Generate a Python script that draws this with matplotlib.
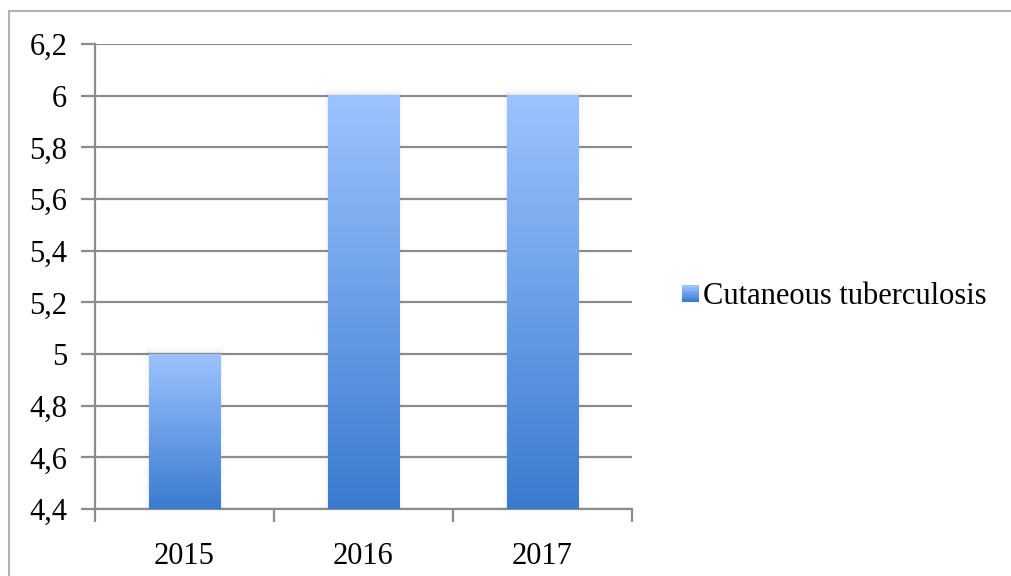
import numpy as np
import matplotlib
matplotlib.use("Agg")
import matplotlib.pyplot as plt
from matplotlib.patches import Rectangle
from matplotlib.colors import LinearSegmentedColormap
from matplotlib.legend_handler import HandlerBase

categories = ["2015", "2016", "2017"]
values = [5, 6, 6]
series_name = "Cutaneous tuberculosis"
yticks = [4.4, 4.6, 4.8, 5.0, 5.2, 5.4, 5.6, 5.8, 6.0, 6.2]
ytick_labels = ["4,4", "4,6", "4,8", "5", "5,2", "5,4", "5,6", "5,8", "6", "6,2"]

top_col = "#9cc3ff"
bot_col = "#3a7bd0"
cmap = LinearSegmentedColormap.from_list("g", [bot_col, top_col])

plt.rcParams['font.family'] = ['Liberation Serif', 'DejaVu Serif']
FS = 22

fig = plt.figure(figsize=(10.11, 5.76), dpi=100)
ax = fig.add_axes([95/1011, 1-509/576, (632-95)/1011, (509-44)/576])

x = np.arange(len(categories))
bars = ax.bar(x, values, width=0.4, bottom=0, color="none", zorder=3)

grad = np.linspace(0, 1, 256).reshape(-1, 1)
for b in bars:
    x0, w, h = b.get_x(), b.get_width(), b.get_height()
    for i, a in enumerate([0.05, 0.04, 0.03]):
        d = 0.006 * (i + 1)
        ax.add_patch(Rectangle((x0 - d, 4.4), w + 2*d, h - 4.4 + d*1.5, facecolor="gray",
                               alpha=a, edgecolor="none", zorder=2.5))
    ax.imshow(grad, cmap=cmap, origin="lower", aspect="auto",
              extent=(x0, x0 + w, 4.4, h), zorder=3, interpolation="bilinear")
ax.set_xlim(-0.5, len(categories)-0.5)
ax.set_ylim(4.4, 6.2)

ax.set_yticks(yticks)
ax.set_yticklabels(ytick_labels)
ax.yaxis.grid(True, color="#8c8c8c", linewidth=1.6, zorder=1)
ax.set_axisbelow(True)
ax.set_xticks(x)
ax.set_xticklabels(categories)
ax.set_xticks(np.arange(-0.5, len(categories)), minor=True)
ax.tick_params(axis="x", which="major", length=0, pad=24, labelsize=FS)
ax.tick_params(axis="x", which="minor", length=9, width=1.6, color="#8c8c8c", direction="out")
ax.tick_params(axis="y", length=10, width=1.6, color="#8c8c8c", pad=10, labelsize=FS)
for lbl in ax.get_yticklabels():
    lbl.set_y(lbl.get_position()[1])
for s in ["top", "right"]:
    ax.spines[s].set_visible(False)
for s in ["left", "bottom"]:
    ax.spines[s].set_color("#8c8c8c")
    ax.spines[s].set_linewidth(1.6)


class GradHandler(HandlerBase):
    def create_artists(self, legend, orig_handle, xdescent, ydescent, width, height, fontsize, trans):
        n = 12
        size = 12
        x0 = xdescent + width - size
        y0 = -ydescent + (height - size) / 2
        arts = []
        for i in range(n):
            c = cmap(i / (n - 1))
            arts.append(Rectangle((x0, y0 + size * i / n), size, size / n + 0.3,
                                  facecolor=c, edgecolor="none", transform=trans))
        return arts


handle = Rectangle((0, 0), 1, 1)
fig.legend([handle], [series_name], handler_map={Rectangle: GradHandler()},
           loc="center left", bbox_to_anchor=(665/1011, 1-297/576), frameon=False,
           fontsize=FS, handlelength=0.6, handletextpad=0.15, borderpad=0)

fig.patches.append(Rectangle((9/1011, -0.1), 1.2, 1.1 - 11/576, transform=fig.transFigure,
                             facecolor="none", edgecolor="#b0b0b0", linewidth=1.5))

fig.savefig("out.png", dpi=100)
